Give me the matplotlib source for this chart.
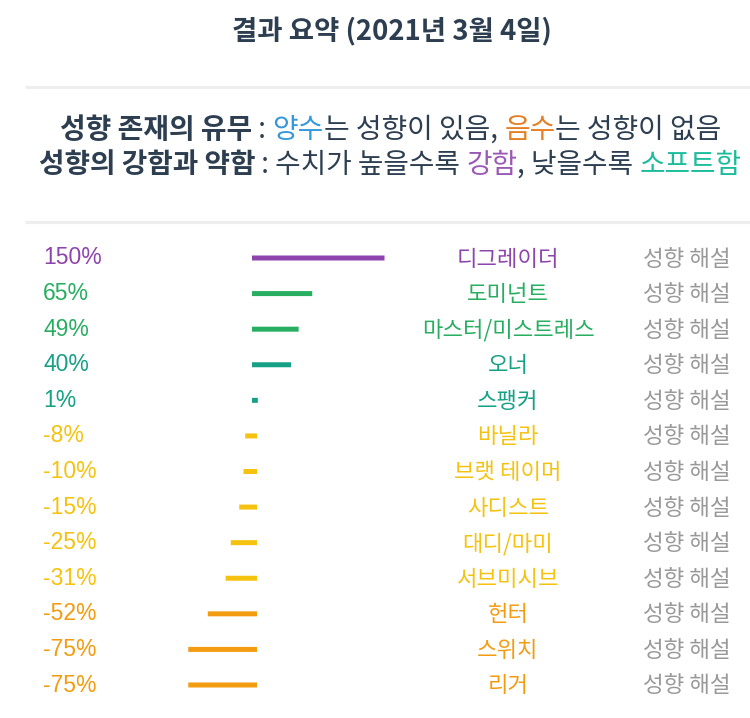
import matplotlib
matplotlib.use("Agg")
import matplotlib.pyplot as plt

plt.rcParams['font.family'] = ['Noto Sans CJK KR', 'DejaVu Sans']

# data
names = ["디그레이더", "도미넌트", "마스터/미스트레스", "오너", "스팽커", "바닐라", "브랫 테이머",
         "사디스트", "대디/마미", "서브미시브", "헌터", "스위치", "리거"]
values = [150, 65, 49, 40, 1, -8, -10, -15, -25, -31, -52, -75, -75]
colors = ["#8e44ad", "#27ae60", "#27ae60", "#16a085", "#16a085", "#f5c20f", "#f5c20f",
          "#f5c20f", "#f5c20f", "#f5c20f", "#f39c12", "#f39c12", "#f39c12"]
link_text = "성향 해설"

W, H = 750, 718
fig = plt.figure(figsize=(W / 100, H / 100), dpi=100)

# overlay axes in pixel coordinates for text and rules
ov = fig.add_axes([0, 0, 1, 1])
ov.set_xlim(0, W)
ov.set_ylim(H, 0)
ov.axis("off")

dark = "#2c3e50"
ov.text(392, 32, "결과 요약 (2021년 3월 4일)", ha="center", va="center",
        fontsize=19.8, fontweight="bold", color=dark)

for yy in (87, 222):
    ov.plot([25, W], [yy, yy], color="#eeeeee", lw=2.2, solid_capstyle="butt")

renderer = fig.canvas.get_renderer()


def rich_line(y, parts, cx, fs):
    items = []
    x = 0
    for s, col, bold in parts:
        t = ov.text(x, y, s, color=col, fontsize=fs, va="center", ha="left",
                    fontweight="bold" if bold else "normal")
        w = t.get_window_extent(renderer).width
        items.append((t, x))
        x += w
    off = cx - x / 2
    for t, x0 in items:
        t.set_x(x0 + off)


rich_line(130, [("성향 존재의 유무", dark, True), (" : ", dark, False),
                ("양수", "#3498db", False), ("는 성향이 있음, ", dark, False),
                ("음수", "#e67e22", False), ("는 성향이 없음", dark, False)], 391, 20.1)
rich_line(165, [("성향의 강함과 약함", dark, True), (" : 수치가 높을수록 ", dark, False),
                ("강함", "#9b59b6", False), (", 낮을수록 ", dark, False),
                ("소프트함", "#1abc9c", False)], 390, 20.0)

# bar axes: zero at x=254.5px, 0.85 px per percent, 5px thick strokes
y0, step = 258, (685 - 258) / 12
left_px, right_px = 150, 450
zero_px, scale = 254.5, 0.85
top_px = y0 - step / 2
bot_px = y0 + step * 12.5
bx = fig.add_axes([left_px / W, 1 - bot_px / H, (right_px - left_px) / W, (bot_px - top_px) / H])
bx.set_xlim((left_px - zero_px) / scale, (right_px - zero_px) / scale)
bx.set_ylim(len(values) - 0.5, -0.5)
bx.axis("off")
rows = list(range(len(values)))
bx.hlines(rows, 0, values, colors=colors, lw=3.6, capstyle="projecting", snap=False)

for i, (n, v, c) in enumerate(zip(names, values, colors)):
    y = y0 + i * step
    ov.text(43, y, f"{v}%", color=c, fontsize=16.5, va="center", ha="left",
            family=["Liberation Sans", "DejaVu Sans"])
    ov.text(508, y + 1, n, color=c, fontsize=16, va="center", ha="center")
    ov.text(643, y + 1, link_text, color="#999999", fontsize=16.2, va="center", ha="left")

fig.savefig("out.png", dpi=100)
